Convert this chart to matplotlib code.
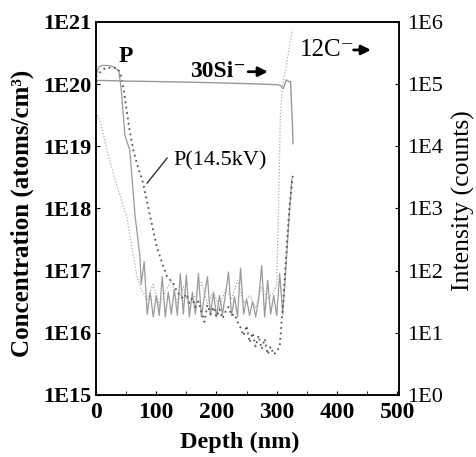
import numpy as np
import matplotlib
matplotlib.use("Agg")
import matplotlib.pyplot as plt

plt.rcParams['font.family'] = ['Liberation Serif', 'DejaVu Serif']

# P profile (solid): implanted plateau, fall-off, then detection floor
p_depth = [0, 5, 10, 20, 30, 38, 42, 48, 56, 65, 73]
p_conc = [1.4e20, 1.9e20, 2.0e20, 2.0e20, 1.9e20, 1.6e20, 8e19, 1.5e19, 8.7e18, 7.4e17, 1.7e17]
floor_depth = np.arange(75, 311, 5)
p_floor = np.array([6, 14, 2, 4.5, 1.8, 4, 1.9, 8, 1.8, 4.5, 2, 5, 1.9, 9, 2, 8.5,
                    1.8, 4.5, 2, 9, 1.8, 4, 8, 1.9, 4.5, 1.8, 4, 2, 4.2, 9.5, 1.9, 3.8,
                    1.8, 11, 2, 3.5, 1.9, 3.2, 1.8, 3.5, 12, 1.8, 7, 2, 4, 1.9, 9, 2]) * 1e16
p_end_depth = [315, 320, 325]
p_end_conc = [1e17, 6e17, 3e18]

# P (14.5kV) profile (dotted)
p14_depth = [0, 8, 15, 25, 36, 41, 46, 55, 62, 70, 78, 90, 101, 110, 118, 128]
p14_conc = [1.3e20, 1.6e20, 1.8e20, 1.85e20, 1.8e20, 1.4e20, 8.1e19, 2e19, 8.7e18,
            4.5e18, 2.6e18, 7.4e17, 2.4e17, 1.3e17, 8e16, 6.3e16]
p14_tail_depth = np.arange(135, 306, 5)
p14_tail = np.array([4.5, 4, 3.5, 4.2, 3, 3.6, 2.6, 3.2, 2.2, 1.5, 2.8, 2.0, 2.6, 1.8,
                     2.4, 1.7, 2.2, 2.6, 1.9, 2.0, 1.5, 1.2, 0.9, 1.3, 0.7, 1.0, 0.6,
                     0.9, 0.55, 0.8, 0.45, 0.6, 0.45, 0.5, 0.6]) * 1e16
p14_end_depth = [311, 316, 321, 327]
p14_end_conc = [3.4e16, 2e17, 1e18, 3.7e18]

# 12C- intensity (counts)
c_depth = [0, 8, 18, 33, 51, 68, 75, 85, 95, 105, 115, 125, 135, 145, 155, 165, 175,
           185, 195, 205, 215, 225, 235, 245, 255, 265, 275, 285, 295, 300, 303, 306,
           310, 316, 322, 326]
c_counts = [3.5e4, 2.4e4, 8.7e3, 2.6e3, 7.4e2, 79, 50, 35, 60, 28, 45, 70, 30, 55, 25,
            40, 65, 30, 45, 26, 50, 35, 70, 30, 40, 25, 55, 35, 45, 60, 1e3, 3e4,
            1e5, 2e5, 4.5e5, 7.4e5]

# 30Si- intensity (counts)
si_depth = [0, 3, 50, 100, 150, 200, 250, 300, 306, 311, 316, 320, 323, 326, 327]
si_counts = [1.05e5, 1.15e5, 1.12e5, 1.1e5, 1.08e5, 1.05e5, 1.02e5, 9.8e4, 9.5e4,
             8.5e4, 1.17e5, 1.1e5, 1.1e5, 2.4e4, 1.1e4]

conc_ticks = [1e15, 1e16, 1e17, 1e18, 1e19, 1e20, 1e21]
conc_labels = ['1E15', '1E16', '1E17', '1E18', '1E19', '1E20', '1E21']
count_ticks = [1, 1e1, 1e2, 1e3, 1e4, 1e5, 1e6]
count_labels = ['1E0', '1E1', '1E2', '1E3', '1E4', '1E5', '1E6']
depth_ticks = [0, 100, 200, 300, 400, 500]

fig = plt.figure(figsize=(4.76, 4.57), dpi=100)
ax = fig.add_axes([0.2017, 0.1357, 0.6365, 0.8162])
ax2 = ax.twinx()

gray = '#9a9a9a'
ax.plot(np.concatenate([p_depth, floor_depth, p_end_depth]),
        np.concatenate([p_conc, p_floor, p_end_conc]),
        color=gray, lw=0.9)
ax.plot(np.concatenate([p14_depth, p14_tail_depth, p14_end_depth]),
        np.concatenate([p14_conc, p14_tail, p14_end_conc]),
        color='#555555', lw=1.3, ls=(0, (1, 2)))
ax2.plot(c_depth, c_counts, color='#aaaaaa', lw=0.9, ls=(0, (1, 1.5)))
ax2.plot(si_depth, si_counts, color='#999999', lw=1.0)

ax.set_xlim(0, 503)
ax.set_yscale('log')
ax.set_ylim(1e15, 1e21)
ax2.set_yscale('log')
ax2.set_ylim(1, 1e6)

ax.set_xticks(depth_ticks)
ax.set_xticks([50, 150, 250, 350, 450], minor=True)
ax.set_xticklabels([str(d) for d in depth_ticks], fontsize=17, fontweight='bold')
ax.set_yticks(conc_ticks)
ax.set_yticklabels(conc_labels, fontsize=16, fontweight='bold')
ax.yaxis.set_minor_locator(matplotlib.ticker.NullLocator())
ax2.set_yticks(count_ticks)
ax2.set_yticklabels(count_labels, fontsize=16)
ax2.yaxis.set_minor_locator(matplotlib.ticker.NullLocator())

ax.tick_params(axis='x', which='both', direction='in', length=3, pad=5)
ax.tick_params(axis='y', direction='in', length=3, pad=3.5)
ax2.tick_params(axis='y', direction='in', length=3, pad=5.5)
for a in (ax, ax2):
    for s in a.spines.values():
        s.set_linewidth(1.1)

fig.text(0.046, 0.534, 'Concentration (atoms/cm³)', rotation=90,
         ha='center', va='center', fontsize=18, fontweight='bold')
fig.text(0.504, 0.031, 'Depth (nm)', ha='center', va='center',
         fontsize=17.5, fontweight='bold')
fig.text(0.973, 0.560, 'Intensity (counts)', rotation=90,
         ha='center', va='center', fontsize=18.5)

# curve labels
ax.text(50, 10**20.44, 'P', ha='center', va='center', fontsize=17, fontweight='bold')
ax.text(156, 10**20.2, '30Si⁻', ha='left', va='center', fontsize=17, fontweight='bold')
ax.annotate('', xy=(290, 10**20.2), xytext=(248, 10**20.2),
            arrowprops=dict(arrowstyle='-|>', color='black', lw=2, mutation_scale=14))
ax.text(339, 10**20.55, '12C⁻', ha='left', va='center', fontsize=18)
ax.annotate('', xy=(461, 10**20.55), xytext=(423, 10**20.55),
            arrowprops=dict(arrowstyle='-|>', color='black', lw=2, mutation_scale=14),
            annotation_clip=False)
ax.text(128, 10**18.77, 'P(14.5kV)', ha='left', va='center', fontsize=16)
ax.plot([118, 85], [10**18.81, 10**18.41], color='#333333', lw=1.0)

fig.savefig('out.png', dpi=100)
